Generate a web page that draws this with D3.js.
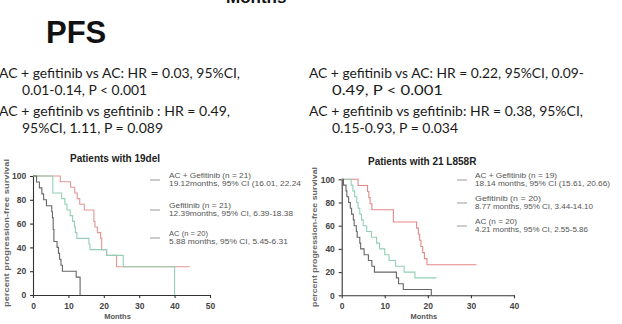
<!DOCTYPE html>
<html><head><meta charset="utf-8">
<script src="https://cdn.jsdelivr.net/npm/d3@7"></script>
<style>body{margin:0;background:#fff}svg{display:block}</style>
</head><body>
<svg id="c" width="622" height="324"></svg>
<script>
// ---------- data ----------
const xTicksLeft = [0,10,20,30,40,50];
const xTicksRight = [0,10,20,30,40];
const yTicks = [0,20,40,60,80,100];

// [months, percent] step points, left panel (19del)
const leftACG = [[0,100],[7.7,95.2],[10.6,90.5],[11.8,85.7],[12.5,81],[13.2,76.2],[14.5,71.4],[17.2,61.9],[17.5,57.1],[18.2,52.4],[19.1,47.6],[19.4,38.1],[20.8,33.3],[23.6,23.8],[44.3,23.8]];
const leftGef = [[0,100],[5.6,85.7],[8.1,81],[9,76.2],[9.6,71.4],[10.5,66.7],[11.2,61.9],[11.7,57.1],[12,52.4],[12.4,47.6],[15.8,42.9],[16.1,38.1],[20.8,33.3],[25.5,23.8],[40,23.8],[40,0]];
const leftAC = [[0,100],[1,95],[1.8,90],[2.5,85],[3,80],[3.8,75],[5.3,70],[5.5,65],[5.7,55],[5.9,45],[6.8,40],[7.2,35],[7.5,30],[7.9,25],[8.3,20],[12.2,15],[13.3,0]];

// right panel (21 L858R)
const rightACG = [[0,100],[3.8,94.7],[6,89.5],[6.3,84.2],[6.6,78.9],[7,73.7],[12,63.2],[17.4,57.9],[17.8,52.6],[18.1,47.4],[18.4,42.1],[18.8,36.8],[19.2,31.6],[19.8,26.3],[31.3,26.3]];
const rightGef = [[0,100],[2.2,95],[2.6,90],[3,85],[3.5,80],[3.8,75],[4.2,70],[4.6,65],[5,60],[5.8,55],[6.9,50],[8.1,45],[8.8,40],[10,35],[11,30],[12.5,25],[14.5,20],[17,15],[22,15]];
const rightAC = [[0,100],[0.4,95],[1,90],[1.2,85],[1.6,80],[2,75],[2.3,70],[2.7,65],[2.9,60],[3.4,55],[3.6,50],[4.2,45],[4.4,40],[5.2,35],[6.2,30],[7,25],[7.6,20],[12.7,15],[13.2,10],[14.3,5],[20.8,5],[20.8,0]];

const leftLegend = [
  ["AC + Gefitinib (n = 21)","19.12months, 95% CI (16.01, 22.24"],
  ["Gefitinib (n = 21)","12.39months, 95% CI, 6.39-18.38"],
  ["AC (n = 20)","5.88 months, 95% CI, 5.45-6.31"]
];
const rightLegend = [
  ["AC + Gefitinib (n = 19)","18.14 months, 95% CI (15.61, 20.66)"],
  ["Gefitinib (n = 20)","8.77 months, 95% CI, 3.44-14.10"],
  ["AC (n = 20)","4.21 months, 95% CI, 2.55-5.86"]
];
const leftNotes = [
  "AC + gefitinib vs AC: HR = 0.03, 95%CI,",
  "0.01-0.14, P < 0.001",
  "AC + gefitinib vs gefitinib : HR = 0.49,",
  "95%CI, 1.11, P = 0.089"
];
const rightNotes = [
  "AC + gefitinib vs AC: HR = 0.22, 95%CI, 0.09-",
  "0.49, P < 0.001",
  "AC + gefitinib vs gefitinib: HR = 0.38, 95%CI,",
  "0.15-0.93, P = 0.034"
];

// ---------- drawing ----------
const svg = d3.select("#c");
const C_ACG = "#e59595", C_GEF = "#92cfb4", C_AC = "#666666";

// header texts
svg.append("text").attr("x",226).attr("y",3).attr("font-family","Liberation Sans, Arial").attr("font-weight","bold")
  .attr("font-size",17).attr("fill","#111").text("Months");
svg.append("text").attr("x",46).attr("y",43).attr("font-family","Liberation Sans, Arial").attr("font-weight","bold")
  .attr("font-size",31).attr("fill","#111").text("PFS");

function notes(lines, x0, x1, widths){
  const ys=[78,95,116,133];
  lines.forEach((t,i)=>{
    const x = (i%2===0)?x0:x1;
    svg.append("text").attr("x",x).attr("y",ys[i]).attr("font-family","Lato, Open Sans, sans-serif")
      .attr("font-size",14).attr("fill","#1a1a1a")
      .attr("textLength",widths[i]).attr("lengthAdjust","spacingAndGlyphs").text(t);
  });
}
notes(leftNotes,-1,22,[241,125,231,141]);
notes(rightNotes,309,332,[275,111,274,126]);

function panel(cfg){
  const x = d3.scaleLinear().domain(cfg.xd).range(cfg.xr);
  const y = d3.scaleLinear().domain([0,100]).range(cfg.yr);
  const g = svg.append("g");
  const font = "Liberation Sans, Arial, sans-serif";
  const ax = g.append("g").attr("transform",`translate(0,${cfg.yr[0]})`)
    .call(d3.axisBottom(x).tickValues(cfg.xt).tickSize(3).tickSizeOuter(0).tickFormat(d3.format("d")));
  const ay = g.append("g").attr("transform",`translate(${cfg.xr[0]},0)`)
    .call(d3.axisLeft(y).tickValues(yTicks).tickSize(3).tickSizeOuter(0).tickFormat(d3.format("d")));
  [ax,ay].forEach(a=>{
    a.select(".domain").attr("stroke","#333").attr("stroke-width",1.1);
    a.selectAll(".tick line").attr("stroke","#333").attr("stroke-width",1.1);
    a.selectAll("text").attr("font-family",font).attr("font-weight","bold").attr("font-size",8.5).attr("fill","#444");
  });
  ax.selectAll("text").attr("dy","0.9em");
  ay.selectAll("text").attr("dx","-0.1em");
  const line = d3.line().x(d=>x(d[0])).y(d=>y(d[1])).curve(d3.curveStepAfter);
  cfg.series.forEach(s=>{
    g.append("path").attr("d",line(s.d)).attr("fill","none").attr("stroke",s.c).attr("stroke-width",1.1);
  });
  g.append("text").attr("x",cfg.title[0]).attr("y",cfg.title[1]).attr("font-family",font).attr("font-weight","bold")
    .attr("font-size",10).attr("fill","#222").text(cfg.title[2]);
  g.append("text").attr("x",(cfg.xr[0]+cfg.xr[1])/2-4).attr("y",319).attr("text-anchor","middle").attr("font-family",font)
    .attr("font-weight","bold").attr("font-size",7.5).attr("fill","#555").text("Months");
  g.append("text").attr("transform",`translate(${cfg.ylab[0]},${cfg.ylab[1]}) rotate(-90)`).attr("text-anchor","middle")
    .attr("font-family",font).attr("font-weight","bold").attr("font-size",7.5).attr("fill","#666")
    .attr("textLength",cfg.ylab[2]).attr("lengthAdjust","spacingAndGlyphs").text("percent progression-free survival");
  cfg.legend.forEach((l,i)=>{
    const ly = cfg.leg.y[i];
    g.append("line").attr("x1",cfg.leg.lx).attr("x2",cfg.leg.lx+10).attr("y1",ly+4).attr("y2",ly+4).attr("stroke","#999").attr("stroke-width",1);
    g.append("text").attr("x",cfg.leg.tx).attr("y",ly+2).attr("font-family",font).attr("font-size",6.6).attr("fill","#555")
      .attr("textLength",cfg.leg.w1[i]).attr("lengthAdjust","spacingAndGlyphs").text(l[0]);
    g.append("text").attr("x",cfg.leg.tx).attr("y",ly+10).attr("font-family",font).attr("font-size",6.6).attr("fill","#555")
      .attr("textLength",cfg.leg.w[i]).attr("lengthAdjust","spacingAndGlyphs").text(l[1]);
  });
}

panel({xd:[0,50], xr:[33,210], yr:[295,176], xt:xTicksLeft,
  series:[{d:leftACG,c:C_ACG},{d:leftGef,c:C_GEF},{d:leftAC,c:C_AC}],
  title:[70,162,"Patients with 19del"], ylab:[9,233,148], legend:leftLegend,
  leg:{lx:150, tx:169, y:[176,206,234], w:[132,124,119], w1:[82,62,39]}});
panel({xd:[0,40], xr:[341.7,514], yr:[295.3,179.3], xt:xTicksRight,
  series:[{d:rightACG,c:"#e58888"},{d:rightGef,c:C_GEF},{d:rightAC,c:C_AC}],
  title:[368,165,"Patients with 21 L858R"], ylab:[317,237,140], legend:rightLegend,
  leg:{lx:457, tx:475, y:[176,199,222], w:[135,118,113], w1:[82,66,42]}});
</script>
</body></html>
